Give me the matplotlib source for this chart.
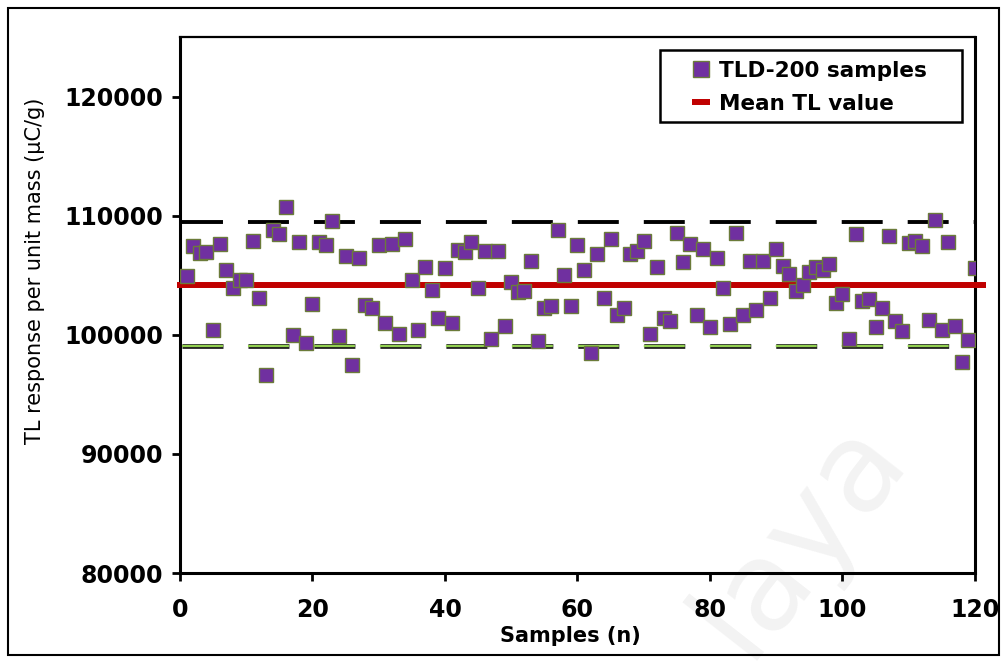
import numpy as np
import matplotlib.pyplot as plt
from matplotlib.patches import Rectangle

plt.rcParams['lines.scale_dashes'] = False

# TL response of each TLD-200 sample
samples = np.arange(1, 121)
tl_response = [
    104960, 107420, 106860, 106950, 100420, 107640, 105460, 103970, 104620, 104620,
    107900, 103080, 96640, 108760, 108480, 110730, 100000, 107790, 99300, 102580,
    107790, 107560, 109520, 99860, 106580, 97480, 106440, 102520, 102240, 107560,
    101030, 107640, 100060, 108040, 104620, 100420, 105690, 103720, 101400, 105600,
    101030, 107140, 106950, 107790, 103970, 107060, 99660, 107060, 100780, 104430,
    103560, 103640, 106160, 99440, 102240, 102380, 108760, 105040, 102380, 107560,
    105460, 98460, 106780, 103080, 108040, 101680, 102240, 106800, 107060, 107900,
    100060, 105690, 101400, 101180, 108540, 106070, 107620, 101620, 107200, 100650,
    106440, 103970, 100900, 108540, 101620, 106160, 102100, 106160, 103080, 107200,
    105740, 105100, 103640, 104140, 105230, 105660, 105460, 105960, 102660, 103420,
    99660, 108480, 102860, 103000, 100650, 102240, 108260, 101180, 100280, 107700,
    107900, 107420, 101260, 109600, 100420, 107790, 100780, 97700, 99580, 105600,
]
mean_tl = 104200
upper_limit = 109450
lower_limit = 99100

mean_span = [-0.5, 121.6]
limit_span = [0.3, 120.4]

fig = plt.figure(figsize=(10.05, 6.62), dpi=100)
ax = fig.add_axes([0.1791, 0.1344, 0.791, 0.8097])

# limit lines
ax.plot(limit_span, [upper_limit] * 2, color='black', lw=2.8, dashes=(29.5, 18), zorder=2)
ax.plot(limit_span, [lower_limit] * 2, color='#1a1a1a', lw=3.4, dashes=(29.5, 18), zorder=2)
ax.plot(limit_span, [lower_limit] * 2, color='#92D050', lw=1.6, dashes=(29.5, 18), zorder=2)

ax.plot(mean_span, [mean_tl] * 2, color='#C00000', lw=4.3, solid_capstyle='butt',
        clip_on=False, zorder=3, label='Mean TL value')
ax.plot(samples, tl_response, ls='none', marker='s', ms=10.5, mfc='#7030A0',
        mec='#6B7B3A', mew=1.0, zorder=4, label='TLD-200 samples')

ax.set_xlim(0, 120)
ax.set_ylim(80000, 125000)
ax.set_xticks(range(0, 121, 20))
ax.set_yticks(range(80000, 120001, 10000))
ax.tick_params(axis='y', direction='out', length=6, width=2, pad=6, labelsize=17)
ax.tick_params(axis='x', direction='out', length=6, width=2, pad=12, labelsize=17)
for lab in ax.get_xticklabels() + ax.get_yticklabels():
    lab.set_fontweight('bold')
for s in ['left', 'bottom', 'right']:
    ax.spines[s].set_linewidth(2.2)
ax.spines['top'].set_linewidth(1.6)

# legend without its own frame, boxed by a wider rectangle like the original
handles, labels = ax.get_legend_handles_labels()
leg = ax.legend(handles[::-1], labels[::-1], loc='upper right', bbox_to_anchor=(0.94, 0.956),
                borderaxespad=0, borderpad=0, frameon=False,
                handlelength=0.8, handletextpad=0.45, labelspacing=0.62,
                markerscale=1.05, prop={'weight': 'bold', 'size': 15.5})
leg.set_zorder(6)
ax.add_patch(Rectangle((0.604, 0.841), 0.38, 0.135, transform=ax.transAxes,
                       facecolor='white', edgecolor='black', lw=1.8, zorder=5))

fig.text(0.035, 1 - 271 / 662, 'TL response per unit mass (\u03bcC/g)', rotation=90,
         ha='center', va='center', fontsize=15)
fig.text(570 / 1005, 1 - 636 / 662, 'Samples (n)', ha='center', va='center',
         fontsize=15, fontweight='bold')

# faint watermark
fig.text(0.795, 0.19, 'laya', rotation=52, fontsize=90, color='black', alpha=0.05,
         ha='center', va='center')

fig.patches.append(Rectangle((0.008, 0.01), 0.986, 0.978, transform=fig.transFigure,
                             fill=False, edgecolor='black', lw=1.5))

fig.savefig('out.png', dpi=100)
